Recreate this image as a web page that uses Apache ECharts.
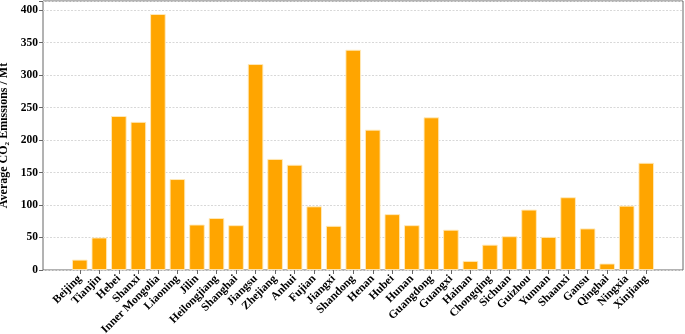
<!DOCTYPE html>
<html>
<head>
<meta charset="utf-8">
<script src="https://cdn.jsdelivr.net/npm/echarts@6/dist/echarts.min.js"></script>
<style>
html, body { margin: 0; padding: 0; background: #fff; }
#graph { width: 685px; height: 334px; }
</style>
</head>
<body>
<div id="graph"></div>
<script>
"use strict"

const provinces = ["Beijing", "Tianjin", "Hebei", "Shanxi", "Inner Mongolia", "Liaoning", "Jilin", "Heilongjiang",
    "Shanghai", "Jiangsu", "Zhejiang", "Anhui", "Fujian", "Jiangxi", "Shandong", "Henan", "Hubei", "Hunan",
    "Guangdong", "Guangxi", "Hainan", "Chongqing", "Sichuan", "Guizhou", "Yunnan", "Shaanxi", "Gansu",
    "Qinghai", "Ningxia", "Xinjiang"];
const emissions = [16, 50, 237, 228, 394, 140, 70, 80,
    69, 317, 171, 162, 98, 68, 339, 216, 86, 69,
    235, 62, 14, 39, 52, 93, 51, 112, 64,
    10, 99, 165];
const yTicks = [0, 50, 100, 150, 200, 250, 300, 350, 400];
const yMax = 414;

const font = "Liberation Serif";
const myChart = echarts.init(document.getElementById("graph"), null, { renderer: "canvas" });

const option = {
    animation: false,
    grid: [
        // frame + gridlines
        { left: 43, right: 2, top: 1, bottom: 64, outerBoundsMode: "none", containLabel: false,
          show: true, borderColor: "#666", borderWidth: 1, backgroundColor: "transparent" },
        // bars, padded inside the frame
        { left: 70, right: 29, top: 1, bottom: 64, outerBoundsMode: "none", containLabel: false }
    ],
    xAxis: [
        { gridIndex: 0, type: "value", min: 0, max: 1, show: false },
        {
            gridIndex: 1,
            type: "category",
            data: provinces,
            axisLine: { show: false },
            axisTick: { show: true, alignWithLabel: true, length: 4, lineStyle: { color: "#666" } },
            axisLabel: {
                interval: 0,
                rotate: 45,
                margin: 7,
                fontFamily: font,
                fontWeight: "bold",
                fontSize: 11.5,
                color: "#000"
            }
        }
    ],
    yAxis: [
        {
            gridIndex: 0,
            type: "value",
            min: 0,
            max: yMax,
            interval: 50,
            name: "Average CO\u2082 Emissions / Mt",
            nameLocation: "middle",
            nameGap: 29,
            nameTextStyle: { fontFamily: font, fontWeight: "bold", fontSize: 12, color: "#000" },
            axisLine: { show: false },
            axisTick: { show: true, length: 4, lineStyle: { color: "#666" } },
            axisLabel: {
                margin: 5,
                fontFamily: font,
                fontWeight: "bold",
                fontSize: 11.5,
                color: "#000",
                formatter: v => yTicks.includes(v) ? String(v) : ""
            },
            splitLine: { show: true, lineStyle: { color: "#d8d8d8", type: [2, 1.5], width: 1 } }
        },
        { gridIndex: 1, type: "value", min: 0, max: yMax, show: false, splitLine: { show: false } }
    ],
    series: [{
        type: "bar",
        xAxisIndex: 1,
        yAxisIndex: 1,
        data: emissions,
        barWidth: "80%",
        itemStyle: { color: "#FFA500", borderColor: "rgba(255,235,190,0.9)", borderWidth: 1 }
    }]
};

myChart.setOption(option);
</script>
</body>
</html>
